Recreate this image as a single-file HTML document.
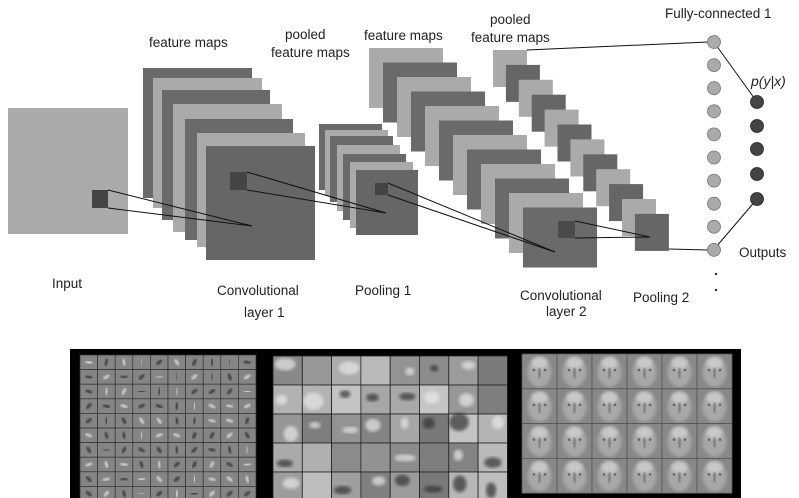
<!DOCTYPE html>
<html><head><meta charset="utf-8"><style>
html,body{margin:0;padding:0;background:#fff;}
#w{position:relative;width:799px;height:498px;overflow:hidden;}
svg{position:absolute;left:0;top:0;}
text{font-family:"Liberation Sans",sans-serif;font-size:13.5px;fill:#222;font-weight:500;}
</style></head><body><div id="w">
<svg width="799" height="498" viewBox="0 0 799 498" id="s">
<defs><filter id="bl"><feGaussianBlur stdDeviation="1.6"/></filter><filter id="bl2"><feGaussianBlur stdDeviation="1"/></filter></defs>
<rect x="8" y="108" width="120" height="126" fill="#aaa"/>
<rect x="143" y="68" width="109" height="130" fill="#6a6a6a"/>
<rect x="153" y="78" width="109" height="130" fill="#aaa"/>
<rect x="162" y="90" width="108" height="130" fill="#6a6a6a"/>
<rect x="173" y="104" width="109" height="128" fill="#aaa"/>
<rect x="185" y="119" width="108" height="121" fill="#6a6a6a"/>
<rect x="197" y="133" width="108" height="114" fill="#aaa"/>
<rect x="206" y="146" width="109" height="114" fill="#666"/>
<rect x="319" y="124" width="63" height="66" fill="#6a6a6a"/>
<rect x="325" y="130" width="63" height="66" fill="#aaa"/>
<rect x="330" y="136" width="63" height="66" fill="#6a6a6a"/>
<rect x="337" y="145" width="63" height="66" fill="#aaa"/>
<rect x="343" y="154" width="63" height="66" fill="#6a6a6a"/>
<rect x="350" y="162" width="63" height="66" fill="#aaa"/>
<rect x="356" y="170" width="62" height="65" fill="#666"/>
<g id="c2"></g>
<g id="p2"></g>
<rect x="92" y="190" width="16" height="18" fill="#444"/>
<rect x="230" y="172" width="17" height="18" fill="#444"/>
<rect x="375" y="183" width="13" height="12" fill="#444"/>
<rect x="558" y="221" width="17" height="17" fill="#4a4a4a"/>
<g stroke="#111" stroke-width="1" fill="none">
<line x1="108" y1="190" x2="252" y2="226"/><line x1="108" y1="208" x2="252" y2="226"/>
<line x1="247" y1="172" x2="386" y2="213"/><line x1="247" y1="190" x2="386" y2="213"/>
<line x1="388" y1="183" x2="555" y2="252"/><line x1="388" y1="195" x2="555" y2="252"/>
<line x1="575" y1="221" x2="650" y2="237"/><line x1="575" y1="238" x2="650" y2="237"/>
<line x1="527" y1="50" x2="708" y2="42"/><line x1="669" y1="249" x2="708" y2="250"/>
<line x1="716" y1="45" x2="757" y2="102"/><line x1="716" y1="247" x2="757" y2="199"/>
</g>
<g id="fc"></g>
<g fill="#444" stroke="#222" stroke-width="0.8">
<circle cx="757" cy="102" r="6.5"/><circle cx="757" cy="126" r="6.5"/><circle cx="757" cy="149" r="6.5"/><circle cx="757" cy="174" r="6.5"/><circle cx="757" cy="199" r="6.5"/>
</g>
<circle cx="716" cy="274" r="1.2" fill="#222"/><circle cx="716" cy="290" r="1.2" fill="#222"/>
<text x="149" y="47">feature maps</text>
<text x="285" y="39">pooled</text>
<text x="271" y="57">feature maps</text>
<text x="364" y="40">feature maps</text>
<text x="490" y="24">pooled</text>
<text x="471" y="42">feature maps</text>
<text x="665" y="18">Fully-connected 1</text>
<text x="751" y="86" style="font-style:italic;font-size:14px">p(y|x)</text>
<text x="739" y="257">Outputs</text>
<text x="52" y="288">Input</text>
<text x="217" y="295">Convolutional</text>
<text x="244" y="317">layer 1</text>
<text x="355" y="295">Pooling 1</text>
<text x="520" y="300">Convolutional</text>
<text x="546" y="316">layer 2</text>
<text x="633" y="302">Pooling 2</text>
<rect x="70" y="349" width="671" height="149" fill="#000"/>
<g id="b1"></g><g id="b2"></g><g id="b3"></g>
</svg>
<script>
var NS="http://www.w3.org/2000/svg";
function el(p,t,a){var e=document.createElementNS(NS,t);for(var k in a)e.setAttribute(k,a[k]);document.getElementById(p).appendChild(e);return e;}
for(var i=0;i<12;i++){el("c2","rect",{x:369+i*14,y:48+i*14.5,width:74,height:60,fill:i%2?"#6a6a6a":"#aaa"});}
for(var i=0;i<12;i++){el("p2","rect",{x:493+i*12.9,y:50+i*14.9,width:34,height:37,fill:i%2?"#666":"#aaa"});}
for(var i=0;i<10;i++){el("fc","circle",{cx:714,cy:42+i*23.1,r:6.5,fill:"#aaa",stroke:"#777","stroke-width":0.8});}
var seed=7;function r(){seed=(seed*9301+49297)%233280;return seed/233280;}
for(var y=0;y<10;y++)for(var x=0;x<10;x++){var cx=80+x*17.6,cy=355+y*14.6;
el("b1","rect",{x:cx,y:cy,width:17.6,height:14.6,fill:"#858585",stroke:"#333","stroke-width":0.7});
var a=r()*180;el("b1","line",{x1:cx+8.8-3.5*Math.cos(a),y1:cy+7.3-3.5*Math.sin(a),x2:cx+8.8+3.5*Math.cos(a),y2:cy+7.3+3.5*Math.sin(a),stroke:r()>.5?"#eee":"#222","stroke-width":2,filter:"url(#bl2)"});}
for(var y=0;y<5;y++)for(var x=0;x<8;x++){var cx=273+x*29.3,cy=356+y*29;var v=Math.floor(120+r()*80);
el("b2","rect",{x:cx,y:cy,width:29.3,height:29,fill:"rgb("+v+","+v+","+v+")"});
if(r()>.2)el("b2","ellipse",{cx:cx+8+r()*13,cy:cy+8+r()*13,rx:4+r()*7,ry:3+r()*6,fill:r()>.5?"#333":"#e8e8e8",opacity:0.7,filter:"url(#bl)"});
el("b2","rect",{x:cx,y:cy,width:29.3,height:29,fill:"none",stroke:"#222","stroke-width":0.8});}
for(var y=0;y<4;y++)for(var x=0;x<6;x++){var cx=522+x*35,cy=354+y*34.8;
el("b3","rect",{x:cx,y:cy,width:35,height:34.8,fill:"#888"});
el("b3","ellipse",{cx:cx+17.5,cy:cy+18,rx:12,ry:15,fill:"#a8a8a8",filter:"url(#bl)"});
el("b3","ellipse",{cx:cx+17.5,cy:cy+9,rx:8,ry:6,fill:"#c8c8c8",filter:"url(#bl)"});
el("b3","rect",{x:cx+16.5,y:cy+14,width:2,height:10,fill:"#6a6a6a",filter:"url(#bl2)"});
el("b3","circle",{cx:cx+12,cy:cy+16,r:1.3,fill:"#666"});el("b3","circle",{cx:cx+23,cy:cy+16,r:1.3,fill:"#666"});
el("b3","rect",{x:cx,y:cy,width:35,height:34.8,fill:"none",stroke:"#555","stroke-width":0.8});}
</script>
</div></body></html>
